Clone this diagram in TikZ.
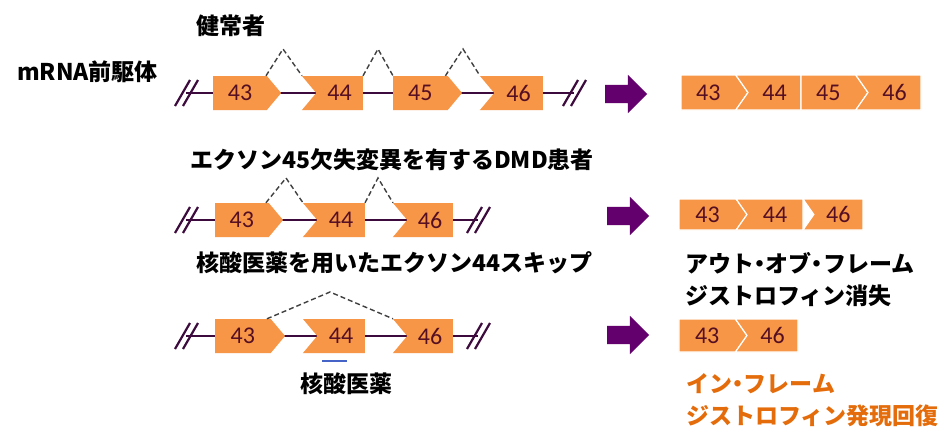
\documentclass[tikz,border=0pt]{standalone}
\usepackage{fontspec}
\setmainfont{Carlito}
\newfontfamily\jpfont{Noto Sans CJK JP}
\usetikzlibrary{shapes.symbols,shapes.arrows,calc}
\definecolor{exonfill}{RGB}{247,150,70}
\definecolor{exontext}{RGB}{85,15,35}
\definecolor{intron}{RGB}{60,10,60}
\definecolor{bigarrow}{RGB}{100,0,110}
\definecolor{rescue}{RGB}{228,108,10}
\definecolor{drug}{RGB}{70,100,200}
\newcommand{\nakaguro}{{\addfontfeatures{RawFeature=+palt}・}}

\tikzset{
  exon/.style={signal,signal pointer angle=100,fill=exonfill,draw=none,inner sep=0pt,
    minimum height=34,font=\fontsize{24}{24}\selectfont,text=exontext},
  toE/.style={signal to=east,signal from=nowhere},
  fromW/.style={signal to=nowhere,signal from=west},
  joined/.style={exon,draw=white,line width=1.2,signal pointer angle=110},
  splice/.style={dashed,dash pattern=on 5pt off 3pt,line width=1.4,black!75},
  intronline/.style={line width=2.4,intron},
  bigarr/.style={single arrow,fill=bigarrow,draw=none,inner xsep=0pt,inner ysep=9pt,
    minimum height=42,minimum width=38,single arrow head extend=10},
  jp/.style={font=\jpfont\bfseries\fontsize{23}{32}\selectfont,inner sep=0pt},
  cutmark/.pic={\draw[line width=2.2,intron] (-11,13) -- (4,-13) (-3,13) -- (12,-13);}
}

\begin{document}
\begin{tikzpicture}[x=1pt,y=-1pt]
\path[fill=white,use as bounding box] (0,0) rectangle (946,445);

% labels
\node[jp,anchor=west] (healthy) at (196,26) {健常者};
\node[jp,anchor=west] (premrna) at (17,72) {mRNA前駆体};
\node[jp,anchor=west] (patient) at (190,160) {エクソン45欠失変異を有するDMD患者};
\node[jp,anchor=west] (skip) at (196,263) {核酸医薬を用いたエクソン44スキップ};
\node[jp,anchor=west,align=left] (outframe) at (685,280) {アウト\nakaguro オブ\nakaguro フレーム\\ジストロフィン消失};
\node[jp,anchor=west,align=left,text=rescue] (inframe) at (686,400) {イン\nakaguro フレーム\\ジストロフィン発現回復};
\node[jp] (asolabel) at (346,384) {核酸医薬};

% healthy pre-mRNA
\coordinate (aL) at (186,93);
\coordinate (aR) at (574,93);
\draw[intronline] (aL) -- (aR);
\pic at (aL) {cutmark};
\pic at (aR) {cutmark};
\node[exon,toE,minimum width=68] (a43) at (240,93) {43};
\node[exon,fromW,minimum width=61] (a44) at (339.6,93) {44};
\node[exon,toE,minimum width=69] (a45) at (420.4,93) {45};
\node[exon,fromW,minimum width=63] (a46) at (518.6,93) {46};
\coordinate (ap1) at (283,49);
\coordinate (ap2) at (378,49);
\coordinate (ap3) at (463,49);
\draw[splice] ($(a43.north)+(26,0)$) -- (ap1) -- ($(a44.north)+(-37.6,0)$);
\draw[splice] ($(a44.north)+(23.4,0)$) -- (ap2) -- ($(a45.north)+(-27.4,0)$);
\draw[splice] ($(a45.north)+(25,0)$) -- (ap3) -- ($(a46.north)+(-38.6,0)$);

% exon 45 deleted
\coordinate (bL) at (186,220);
\coordinate (bR) at (478,220);
\draw[intronline] (bL) -- (bR);
\pic at (bL) {cutmark};
\pic at (bR) {cutmark};
\node[exon,toE,minimum width=68] (b43) at (241.9,220) {43};
\node[exon,fromW,minimum width=62] (b44) at (341.1,220) {44};
\node[exon,fromW,minimum width=60] (b46) at (430.1,220) {46};
\coordinate (bp1) at (286,178);
\coordinate (bp2) at (378,178);
\draw[splice] ($(b43.north)+(24,0)$) -- (bp1) -- ($(b44.north)+(-38.1,0)$);
\draw[splice] ($(b44.north)+(23.9,0)$) -- (bp2) -- ($(b46.north)+(-37.1,0)$);

% exon 44 skipping
\coordinate (cL) at (186,336);
\coordinate (cR) at (478,336);
\draw[intronline] (cL) -- (cR);
\pic at (cL) {cutmark};
\pic at (cR) {cutmark};
\node[exon,toE,minimum width=70] (c43) at (242.9,336) {43};
\node[exon,fromW,minimum width=62] (c44) at (341.1,336) {44};
\node[exon,fromW,minimum width=60] (c46) at (430.1,336) {46};
\coordinate (cp1) at (330,292);
\draw[splice] ($(c43.north)+(24,0)$) -- (cp1) -- ($(c46.north)+(-37.1,0)$);
\node[fill=drug,inner sep=0pt,minimum width=25,minimum height=2] (aso) at (334.5,361) {};

% arrows
\node[bigarr] (arr1) at (621.5,94) {};
\node[bigarr] (arr2) at (623.5,216) {};
\node[bigarr] (arr3) at (623.5,335) {};

% mature mRNA
\node[joined,toE,minimum width=67,minimum height=35] (r43) at (708.4,92.5) {43};
\node[joined,fromW,minimum width=65.25,minimum height=35] (r44) at (774.5,92.5) {44};
\node[joined,toE,minimum width=67,minimum height=35] (r45) at (828.4,92.5) {45};
\node[joined,fromW,minimum width=65.25,minimum height=35] (r46) at (894.5,92.5) {46};

\node[joined,toE,minimum width=68,minimum height=31] (s43) at (707.6,214.5) {43};
\node[joined,fromW,minimum width=66.85,minimum height=31] (s44) at (775,214.5) {44};
\node[joined,fromW,minimum width=60,minimum height=31] (s46) at (838.4,214.5) {46};

\node[joined,toE,minimum width=68,minimum height=33] (t43) at (707.2,335.5) {43};
\node[joined,fromW,minimum width=62.55,minimum height=33] (t46) at (772.5,335.5) {46};
\end{tikzpicture}
\end{document}
